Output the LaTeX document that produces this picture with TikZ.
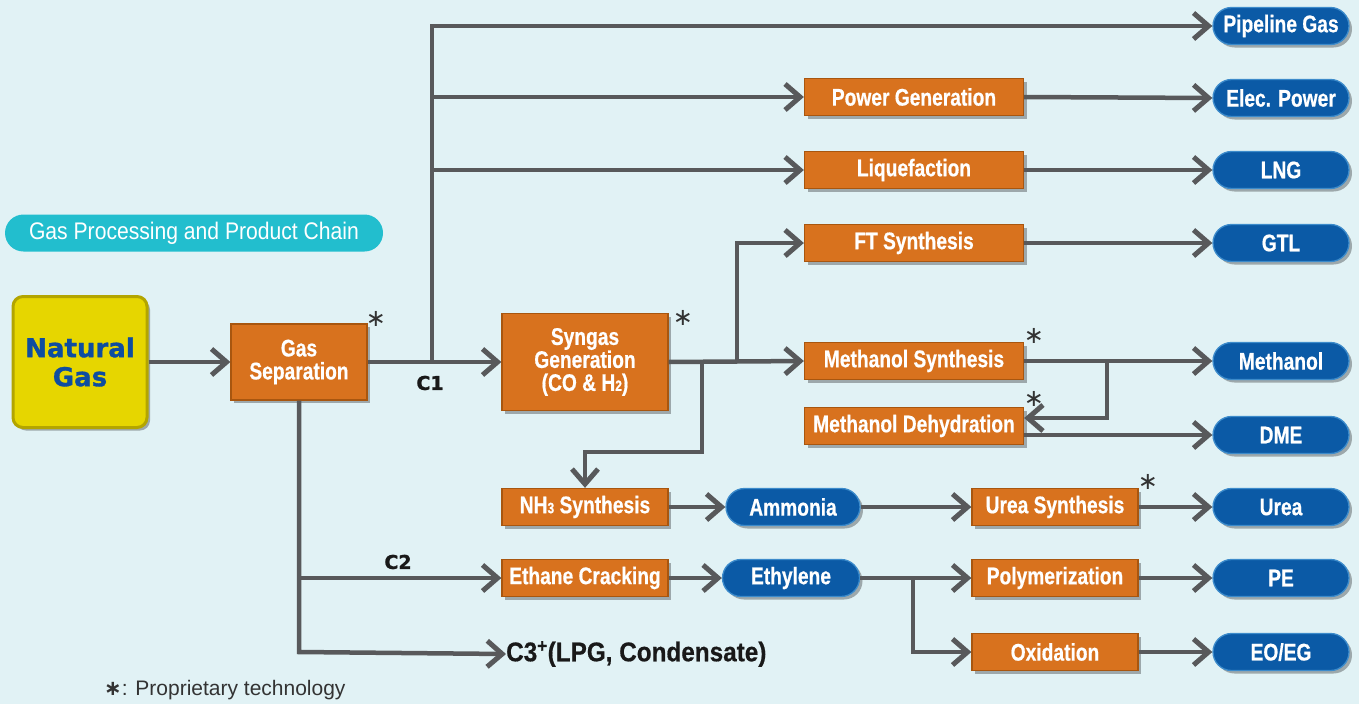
\documentclass[tikz,border=0pt]{standalone}
\usepackage{fontspec}
\usetikzlibrary{arrows.meta,shadows,shapes.misc}
\setmainfont{Liberation Sans}
\newfontfamily\cond[FakeStretch=0.8, FakeBold=0.6]{Liberation Sans}
\newfontfamily\condc[FakeStretch=0.9, FakeBold=0.6]{Liberation Sans}
\newfontfamily\condlight[FakeStretch=0.88]{Liberation Sans}
\newfontfamily\heavy[FakeBold=1.2]{DejaVu Sans}
\newfontfamily\dejavu{DejaVu Sans}
\definecolor{bg}{HTML}{E1F2F5}
\definecolor{orF}{HTML}{D8721E}
\definecolor{orD}{HTML}{A8560F}
\definecolor{blF}{HTML}{0B5AA6}
\definecolor{blD}{HTML}{3C8BCB}
\definecolor{lnC}{HTML}{58595B}
\definecolor{ylF}{HTML}{E6D600}
\definecolor{ylD}{HTML}{B3A500}
\definecolor{ngT}{HTML}{0E4DA0}
\definecolor{ttl}{HTML}{22BECE}
\tikzset{
  x=1pt, y=-1pt,
  shd/.style={drop shadow={shadow xshift=3pt, shadow yshift=-3pt, opacity=0.3, fill=black}},
  proc/.style={shd, draw=orD, line width=1.3pt, fill=orF, text=white, inner sep=0pt,
    font=\cond\bfseries\fontsize{24}{26}\selectfont, minimum height=37pt, align=center},
  prod/.style={shd, rounded rectangle, draw=blD, line width=1.3pt, fill=blF, text=white, inner sep=0pt,
    font=\cond\bfseries\fontsize{24}{26}\selectfont, minimum height=37pt, minimum width=136pt},
  conn/.style={draw=lnC, line width=4.5pt},
  arr/.style={-{Straight Barb[length=15pt,width=26pt,line width=5pt]}},
  star/.style={font=\dejavu\fontsize{24}{24}\selectfont, text=black!80, inner sep=0pt},
  clab/.style={font=\heavy\bfseries\fontsize{19}{21}\selectfont, text=black!90, inner sep=0pt}
}
\newcommand{\smallsub}[1]{{\fontsize{15}{15}\selectfont #1}}
\begin{document}
\begin{tikzpicture}
\fill[bg] (0,0) rectangle (1359,704);
\useasboundingbox (0,0) rectangle (1359,704);

% title
\node[fill=ttl, rounded rectangle, minimum width=378pt, minimum height=37pt, inner sep=0pt,
  text=white, font=\condlight\fontsize{24}{26}\selectfont] (title) at (194,233) {Gas Processing and Product Chain};

% natural gas
\node[shd, draw=ylD, fill=ylF, line width=3pt, rounded corners=10pt, minimum width=134pt, minimum height=131pt,
  text=ngT, font=\heavy\bfseries\fontsize{26}{29}\selectfont, align=center, inner sep=0pt] (ng) at (80,362) {Natural\\Gas};

% process nodes
\node[proc, minimum width=136pt, minimum height=76pt] (gs) at (299,362) {Gas\\[-3pt]Separation};
\node[proc, minimum width=166pt, minimum height=97pt] (sg) at (585,362) {Syngas\\[-3pt]Generation\\[-3pt](CO \& H\smallsub{2})};
\node[proc, minimum width=219pt] (pg) at (914,97) {Power Generation};
\node[proc, minimum width=219pt] (lq) at (914,170) {Liquefaction};
\node[proc, minimum width=219pt] (ft) at (914,243) {FT Synthesis};
\node[proc, minimum width=219pt] (ms) at (914,361) {Methanol Synthesis};
\node[proc, minimum width=219pt] (md) at (914,426) {Methanol Dehydration};
\node[proc, minimum width=166pt] (nh) at (585,507) {NH\smallsub{3} Synthesis};
\node[proc, minimum width=166pt] (us) at (1055,507) {Urea Synthesis};
\node[proc, minimum width=166pt] (ec) at (585,578) {Ethane Cracking};
\node[proc, minimum width=166pt] (po) at (1055,578) {Polymerization};
\node[proc, minimum width=166pt] (ox) at (1055,652) {Oxidation};

% intermediate products
\node[prod, minimum width=134pt] (am) at (793,507) {Ammonia};
\node[prod, minimum width=137pt] (et) at (791,578) {Ethylene};

% final products
\node[prod] (pipe) at (1281,26) {Pipeline Gas};
\node[prod] (ep) at (1281,98) {Elec. Power};
\node[prod] (lng) at (1281,170) {LNG};
\node[prod] (gtl) at (1281,243) {GTL};
\node[prod] (meth) at (1281,361) {Methanol};
\node[prod] (dme) at (1281,435) {DME};
\node[prod] (urea) at (1281,507) {Urea};
\node[prod] (pe) at (1281,578) {PE};
\node[prod] (eo) at (1281,652) {EO/EG};

% C3+ text
\node[anchor=west, inner sep=0pt, font=\condc\bfseries\fontsize{27}{29}\selectfont, text=black!90] (c3) at (506,654)
  {C3\textsuperscript{+}(LPG, Condensate)};

% asterisks
\node[star] (s1) at (376,319) {∗};
\node[star] (s2) at (683,318) {∗};
\node[star] (s3) at (1034,336) {∗};
\node[star] (s4) at (1034,399) {∗};
\node[star] (s5) at (1148,482) {∗};

% labels
\node[clab] (c1) at (430,383) {C1};
\node[clab] (c2) at (398,562) {C2};

% junction coordinates
\coordinate (j1) at (432,362);
\coordinate (j2) at (737,362);
\coordinate (j3) at (702,362);
\coordinate (k3) at (702,452);
\coordinate (j4) at (1107,361);
\coordinate (j5) at (299,578);
\coordinate (j6) at (913,578);
\coordinate (k5) at (299,652);

% connectors
\draw[conn, arr] (ng.east) -- (gs.west);
\draw[conn, arr] (gs.east) -- (sg.west);
\draw[conn, arr] (j1) |- (pipe.west);
\draw[conn, arr] (j1 |- pg.west) -- (pg.west);
\draw[conn, arr] (j1 |- lq.west) -- (lq.west);
\draw[conn, arr] (sg.east) -- (ms.west);
\draw[conn, arr] (j2) |- (ft.west);
\draw[conn, arr] (j3) -- (k3) -| (nh.north);
\draw[conn, arr] (pg.east) -- (ep.west);
\draw[conn, arr] (lq.east) -- (lng.west);
\draw[conn, arr] (ft.east) -- (gtl.west);
\draw[conn, arr] (ms.east) -- (meth.west);
\draw[conn, arr] (j4) |- ([yshift=8pt]md.east);
\draw[conn, arr] ([yshift=-9pt]md.east) -- ([yshift=-9pt]md.east -| dme.west);
\draw[conn, arr] (nh.east) -- (am.west);
\draw[conn, arr] (am.east) -- (us.west);
\draw[conn, arr] (us.east) -- (urea.west);
\draw[conn, arr] (gs.south) -- (k5) -- (c3.west);
\draw[conn, arr] (j5) -- (ec.west);
\draw[conn, arr] (ec.east) -- (et.west);
\draw[conn, arr] (et.east) -- (po.west);
\draw[conn, arr] (j6) |- (ox.west);
\draw[conn, arr] (po.east) -- (pe.west);
\draw[conn, arr] (ox.east) -- (eo.west);

% footnote
\node[anchor=west, inner sep=0pt, font=\fontsize{21}{23}\selectfont, text=black!80] (fn) at (104,690)
  {{\dejavu\bfseries ∗}: Proprietary technology};
\end{tikzpicture}
\end{document}
